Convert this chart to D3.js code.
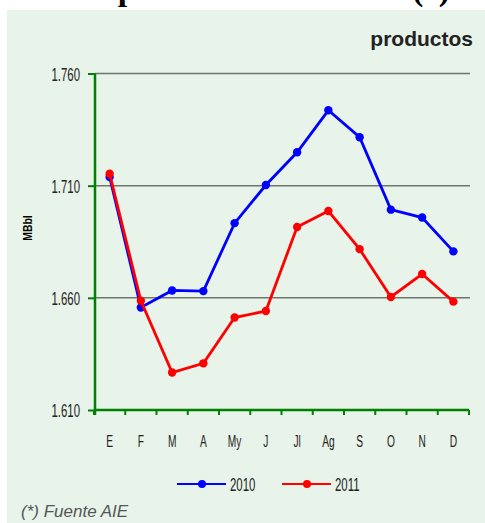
<!DOCTYPE html>
<html>
<head>
<meta charset="utf-8">
<script src="https://cdn.jsdelivr.net/npm/d3@7"></script>
<style>
  body { margin: 0; background: #fff; }
  .lab { font-family: "Liberation Sans", Arial, sans-serif; font-size: 18px; fill: #222; }
</style>
</head>
<body>
<svg id="chart" width="485" height="523"></svg>
<script>
// data
var months = ['E', 'F', 'M', 'A', 'My', 'J', 'Jl', 'Ag', 'S', 'O', 'N', 'D'];
var values2010 = [1.7139, 1.6557, 1.6633, 1.6630, 1.6933, 1.7103, 1.7249, 1.7436, 1.7316, 1.6993, 1.6958, 1.6807];
var values2011 = [1.7153, 1.6587, 1.6267, 1.6308, 1.6512, 1.6541, 1.6916, 1.6987, 1.6817, 1.6604, 1.6706, 1.6583];
var yTicks = [1.610, 1.660, 1.710, 1.760];
var series = [
  { name: '2010', values: values2010, color: '#0000ff' },
  { name: '2011', values: values2011, color: '#ff0000' }
];

var svg = d3.select('#chart');
var plot = { left: 95, right: 469, top: 73.5, bottom: 410 };
var squeeze = 0.6; // the original labels use a very narrow font

var x = d3.scaleBand()
  .domain(months)
  .range([plot.left - 1, plot.right]);

var y = d3.scaleLinear()
  .domain([1.610, 1.760])
  .range([plot.bottom, plot.top]);

// narrow label helper
function narrowText(sel, px, py, anchor, txt, size) {
  return sel.append('text')
    .attr('class', 'lab')
    .attr('transform', 'translate(' + px + ',' + py + ') scale(' + squeeze + ',1)')
    .attr('text-anchor', anchor)
    .style('font-size', size + 'px')
    .text(txt);
}

// background panel
svg.append('rect')
  .attr('x', 7).attr('y', 10)
  .attr('width', 478).attr('height', 513)
  .attr('fill', '#e8f3e9');

// title, cut off at the very top
svg.append('text')
  .attr('x', 78).attr('y', 0)
  .attr('textLength', 372)
  .style('font-family', '"Liberation Serif", serif')
  .style('font-weight', 'bold')
  .style('font-size', '34px')
  .text('Importaciones de crudo (*)');

svg.append('text')
  .attr('x', 473).attr('y', 46)
  .attr('text-anchor', 'end')
  .style('font-family', '"Liberation Sans", Arial, sans-serif')
  .style('font-weight', 'bold')
  .style('font-size', '21px')
  .style('fill', '#222')
  .text('productos');

// gridlines
svg.append('g')
  .selectAll('line')
  .data(yTicks.slice(1))
  .enter()
  .append('line')
    .attr('x1', plot.left)
    .attr('x2', 470)
    .attr('y1', function(d) { return y(d); })
    .attr('y2', function(d) { return y(d); })
    .style('stroke', '#6e766f')
    .style('stroke-width', 1.5);

// y axis
var yAxis = svg.append('g')
  .attr('transform', 'translate(' + plot.left + ',0)')
  .call(d3.axisLeft(y).tickValues(yTicks).tickSize(7).tickFormat(''));
yAxis.select('.domain').remove();
yAxis.selectAll('line').style('stroke', '#008000').style('stroke-width', 2);
var yLabels = svg.append('g');
yTicks.forEach(function(t) {
  narrowText(yLabels, 80, y(t) + 7, 'end', d3.format('.3f')(t), 19);
});
svg.append('line')
  .attr('x1', plot.left).attr('x2', plot.left)
  .attr('y1', plot.top).attr('y2', plot.bottom + 5)
  .style('stroke', '#008000').style('stroke-width', 2.5);

// x axis: ticks on band edges
var edges = months.map(function(m) { return x(m); }).concat([x.range()[1]]);
svg.append('line')
  .attr('x1', plot.left - 1).attr('x2', plot.right)
  .attr('y1', plot.bottom).attr('y2', plot.bottom)
  .style('stroke', '#008000').style('stroke-width', 2.5);
svg.append('g')
  .selectAll('line')
  .data(edges)
  .enter()
  .append('line')
    .attr('x1', function(d) { return d; })
    .attr('x2', function(d) { return d; })
    .attr('y1', plot.bottom)
    .attr('y2', plot.bottom + 5)
    .style('stroke', '#008000')
    .style('stroke-width', 2);
var xLabels = svg.append('g');
months.forEach(function(m) {
  narrowText(xLabels, x(m) + x.bandwidth() / 2, 446.5, 'middle', m, 17);
});

// y label
svg.append('text')
  .attr('transform', 'translate(31.5,228) rotate(-90) scale(0.8,1)')
  .attr('text-anchor', 'middle')
  .style('font-family', '"Liberation Sans", Arial, sans-serif')
  .style('font-weight', 'bold')
  .style('font-size', '13px')
  .text('MBbl');

// lines and markers
var line = d3.line()
  .x(function(d, i) { return x(months[i]) + x.bandwidth() / 2; })
  .y(function(d) { return y(d); });

series.forEach(function(s) {
  svg.append('path')
    .datum(s.values)
    .attr('d', line)
    .attr('fill', 'none')
    .style('stroke', s.color)
    .style('stroke-width', 2.8);
  svg.append('g')
    .selectAll('circle')
    .data(s.values)
    .enter()
    .append('circle')
      .attr('cx', function(d, i) { return x(months[i]) + x.bandwidth() / 2; })
      .attr('cy', function(d) { return y(d); })
      .attr('r', 4.2)
      .style('fill', s.color);
});

// legend
var legend = svg.append('g').attr('transform', 'translate(177,484)');
series.forEach(function(s, i) {
  var g = legend.append('g').attr('transform', 'translate(' + (i * 105) + ',0)');
  g.append('line')
    .attr('x1', 0).attr('x2', 49)
    .style('stroke', s.color).style('stroke-width', 2);
  g.append('circle').attr('cx', 25).attr('r', 4).style('fill', s.color);
  narrowText(g, 53, 7, 'start', s.name, 19);
});

// source note
svg.append('text')
  .attr('x', 21).attr('y', 517)
  .style('font-family', '"Liberation Sans", Arial, sans-serif')
  .style('font-style', 'italic')
  .style('font-size', '17px')
  .style('fill', '#555')
  .text('(*) Fuente AIE');
</script>
</body>
</html>
